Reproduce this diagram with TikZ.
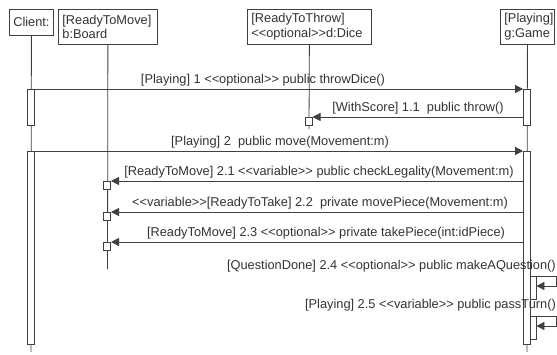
\documentclass[tikz,border=0pt]{standalone}
\usepackage{fontspec}
\setmainfont{Liberation Sans}
\usetikzlibrary{arrows.meta}
\definecolor{lineC}{gray}{0.25}
\definecolor{txtC}{gray}{0.2}
\begin{document}
\begin{tikzpicture}[x=1pt,y=-1pt,
  every node/.style={font=\fontsize{12.8}{14.5}\selectfont, text=txtC},
  objbox/.style={draw=lineC, fill=white, line width=0.8pt, align=left, inner sep=0pt, anchor=north west},
  lifeline/.style={draw=lineC, line width=0.8pt},
  actbar/.style={draw=lineC, fill=white, line width=0.8pt, minimum width=7pt, inner sep=0pt, anchor=north},
  sq/.style={draw=lineC, fill=white, line width=0.8pt, minimum width=7pt, minimum height=8pt, inner sep=0pt, anchor=north east},
  msg/.style={draw=lineC, line width=0.8pt, -{Triangle[length=8pt,width=8pt]}},
  lbl/.style={anchor=base, inner sep=0pt},
  rlbl/.style={anchor=base east, inner sep=0pt}]
\useasboundingbox (0,0) rectangle (557,354);

% object boxes
\node[objbox, minimum width=44pt, minimum height=26pt, align=center] (client) at (9,9) {Client:};
\node[objbox, minimum width=99pt, minimum height=35pt, text width=91pt] (board) at (58,9) {[ReadyToMove]\\b:Board};
\node[objbox, minimum width=124pt, minimum height=35pt, text width=116pt] (dice) at (247,9) {[ReadyToThrow]\\<{}<optional>{}>d:Dice};
\node[objbox, minimum width=54pt, minimum height=35pt, text width=46pt] (game) at (500,9) {[Playing]\\g:Game};

% lifeline ends
\coordinate (clientEnd) at (31,352);
\coordinate (boardEnd) at (107.5,269);
\coordinate (diceEnd) at (309,129);
\coordinate (gameEnd) at (527,352);

\draw[lifeline] (client.south) -- (clientEnd);
\draw[lifeline] (board.south) -- (boardEnd);
\draw[lifeline] (dice.south) -- (diceEnd);
\draw[lifeline] (game.south) -- (gameEnd);

% activation bars
\node[actbar, minimum height=36pt] (cb1) at (31,89) {};
\node[actbar, minimum height=193pt] (cb2) at (31,151) {};
\node[actbar, minimum height=36pt] (gb1) at (527,89) {};
\node[actbar, minimum height=193pt] (gb2) at (527,151) {};
\node[actbar, minimum height=23pt, minimum width=6pt] (nb1) at (533,276) {};
\node[actbar, minimum height=23pt, minimum width=6pt] (nb2) at (533,316) {};

% small execution squares
\node[sq] (ds) at (312.5,117) {};
\node[sq] (bs1) at (111,181) {};
\node[sq] (bs2) at (111,212) {};
\node[sq] (bs3) at (111,242) {};

% messages
\draw[msg] (cb1.north east) -- (gb1.north west);
\node[lbl] (l1) at (263,83) {[Playing] 1 <{}<optional>{}> public throwDice()};

\draw[msg] (gb1.west |- ds.north east) -- (ds.north east);
\node[lbl] (l11) at (418,111) {[WithScore] 1.1\ \ public throw()};

\draw[msg] (cb2.north east) -- (gb2.north west);
\node[lbl] (l2) at (280,145) {[Playing] 2\ \ public move(Movement:m)};

\draw[msg] (gb2.west |- bs1.north east) -- (bs1.north east);
\node[lbl] (l21) at (319,175) {[ReadyToMove] 2.1 <{}<variable>{}> public checkLegality(Movement:m)};

\draw[msg] (gb2.west |- bs2.north east) -- (bs2.north east);
\node[lbl] (l22) at (320,206) {<{}<variable>{}>[ReadyToTake] 2.2\ \ private movePiece(Movement:m)};

\draw[msg] (gb2.west |- bs3.north east) -- (bs3.north east);
\node[lbl] (l23) at (326,236) {[ReadyToMove] 2.3 <{}<optional>{}> private takePiece(int:idPiece)};

% self messages
\coordinate (s1a) at (556,276);
\coordinate (s1b) at (556,286);
\draw[msg] (gb2.east |- s1a) -- (s1a) -- (s1b) -- (nb1.east |- s1b);
\node[rlbl] (l24) at (556,269) {[QuestionDone] 2.4 <{}<optional>{}> public makeAQuestion()};

\coordinate (s2a) at (556,316);
\coordinate (s2b) at (556,326);
\draw[msg] (gb2.east |- s2a) -- (s2a) -- (s2b) -- (nb2.east |- s2b);
\node[rlbl] (l25) at (556,308) {[Playing] 2.5 <{}<variable>{}> public passTurn()};
\end{tikzpicture}
\end{document}
